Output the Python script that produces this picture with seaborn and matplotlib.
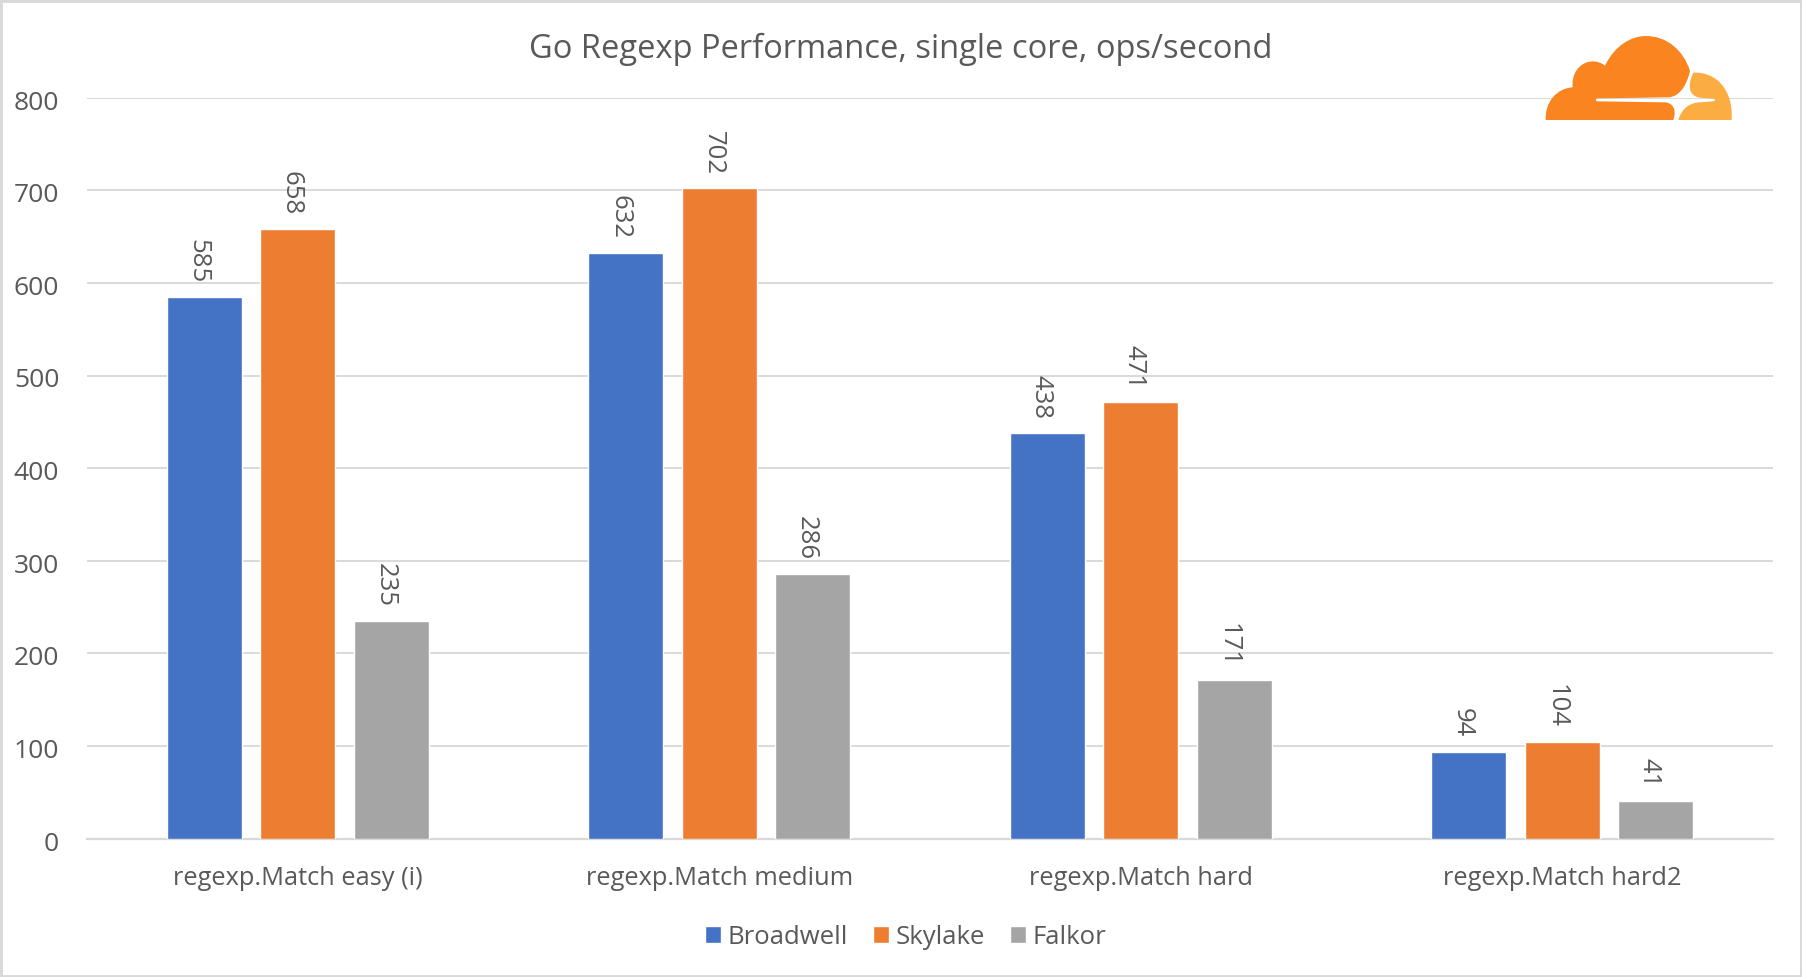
import pandas as pd
import seaborn as sb
import matplotlib.pyplot as plt
from matplotlib.path import Path
from matplotlib.patches import PathPatch, Rectangle
from matplotlib.transforms import Affine2D, ScaledTranslation

categories = ["regexp.Match easy (i)", "regexp.Match medium", "regexp.Match hard", "regexp.Match hard2"]
series_names = ["Broadwell", "Skylake", "Falkor"]
broadwell = [585, 632, 438, 94]
skylake = [658, 702, 471, 104]
falkor = [235, 286, 171, 41]
y_ticks = [0, 100, 200, 300, 400, 500, 600, 700, 800]
colours = ["#4472C4", "#ED7D31", "#A5A5A5"]
title = "Go Regexp Performance, single core, ops/second"

W, H = 1802, 977
TEXT = "#595959"
GRID = "#D9D9D9"

#Long table for seaborn
df = pd.DataFrame({"test": categories * 3,
                   "cpu": [n for n in series_names for _ in categories],
                   "ops": broadwell + skylake + falkor})

sb.set_style("white")
plt.rcParams["font.family"] = ["Open Sans", "DejaVu Sans"]

fig = plt.figure(figsize=(W / 100, H / 100), dpi=100)
ax = fig.add_axes([87 / W, 1 - 838.7 / H, (1773 - 87) / W, (838.7 - 97.7) / H])

sb.barplot(data=df, x="test", y="ops", hue="cpu", palette=colours, order=categories,
           hue_order=series_names, width=0.665, gap=0.2, saturation=1, ax=ax, zorder=3)

ax.set_xlim(-0.5, 3.5)
ax.set_ylim(0, 800)
ax.set_yticks(y_ticks)
ax.set_xlabel("")
ax.set_ylabel("")
ax.grid(axis="y", color=GRID, lw=1.4, zorder=0)
ax.set_axisbelow(True)
sb.despine(ax=ax, left=True, top=True, right=True)
ax.spines["bottom"].set_color(GRID)
ax.spines["bottom"].set_linewidth(1.6)
ax.tick_params(axis="y", length=0, pad=20, labelsize=19, labelcolor=TEXT)
ax.tick_params(axis="x", length=0, pad=19.5, labelsize=18.3, labelcolor=TEXT)

#y labels sit a little under their gridlines in the original
for lab in ax.get_yticklabels():
    lab.set_transform(lab.get_transform() + ScaledTranslation(0, -1.7 / 72, fig.dpi_scale_trans))

#Values above the bars, rotated
for bars in ax.containers:
    labels = ax.bar_label(bars, rotation=-90, padding=10, fontsize=18.5, color=TEXT)
    for lab in labels:
        lab.xyann = (-4.5, 10)

fig.text(784 * 1.149 / W, 1 - 49.5 / H, title, ha="center", va="center", fontsize=23.5, color=TEXT)

ax.legend(loc="center", bbox_to_anchor=(0.5027, 1 - 937 / H), bbox_transform=fig.transFigure,
          ncol=3, frameon=False, fontsize=18.5, labelcolor=TEXT, handlelength=0.62, handleheight=0.62,
          handletextpad=0.27, columnspacing=0.965)

#Cloudflare logo, traced in reference pixels
to_fig = Affine2D().scale(1 / W, -1 / H).translate(0, 1) + fig.transFigure
M, L, C, Z = Path.MOVETO, Path.LINETO, Path.CURVE4, Path.CLOSEPOLY


def logo_piece(steps, colour):
    verts, codes = [], []
    for code, pts in steps:
        for x, y in pts:
            verts.append((1500 + x / 3, y / 3))
            codes.append(code)
    verts.append(verts[0])
    codes.append(Z)
    fig.add_artist(PathPatch(Path(verts, codes), fc=colour, ec="none", transform=to_fig, zorder=5))


logo_piece([(M, [(137, 360)]),
            (C, [(135, 305), (170, 265), (218, 262)]),
            (C, [(212, 195), (275, 165), (315, 197)]),
            (C, [(345, 135), (395, 108), (438, 108)]),
            (C, [(500, 108), (550, 150), (570, 213)]),
            (C, [(560, 255), (540, 290), (505, 292)]),
            (L, [(292, 295)]),
            (C, [(286, 296), (286, 303), (292, 304)]),
            (L, [(495, 307)]),
            (C, [(515, 308), (532, 325), (520, 360)])], "#F98420")
logo_piece([(M, [(535, 360)]),
            (C, [(545, 325), (570, 308), (600, 307)]),
            (L, [(640, 304)]),
            (C, [(647, 302), (647, 297), (640, 296)]),
            (L, [(600, 293)]),
            (C, [(565, 288), (562, 255), (580, 218)]),
            (C, [(650, 215), (700, 270), (695, 360)])], "#FBAD41")

#Thin frame around the whole picture
fig.add_artist(Rectangle((0, 0), 1, 1, fill=False, ec=GRID, lw=3.5, transform=fig.transFigure, zorder=6))

fig.savefig("out.png", dpi=100)
